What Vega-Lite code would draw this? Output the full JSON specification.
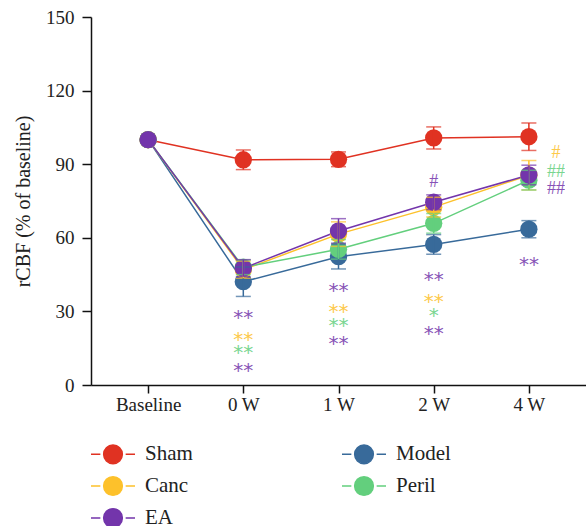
{
  "$schema": "https://vega.github.io/schema/vega-lite/v6.json",
  "width": 495,
  "height": 368,
  "autosize": {"type": "none"},
  "padding": {"left": 91, "top": 17, "right": 0, "bottom": 141},
  "config": {
    "view": {"stroke": null},
    "font": "Liberation Serif",
    "axis": {"grid": false, "domainColor": "#111", "tickColor": "#111", "domainWidth": 1.5, "tickWidth": 1.5, "labelColor": "#222", "titleColor": "#222", "labelFont": "Liberation Serif", "titleFont": "Liberation Serif", "labelFontSize": 19, "titleFontSize": 20, "titleFontWeight": "normal"}
  },
  "datasets": {
    "series": [
      {"group": "Sham", "time": "Baseline", "mean": 100, "err": 0},
      {"group": "Sham", "time": "0 W", "mean": 91.8, "err": 4},
      {"group": "Sham", "time": "1 W", "mean": 92, "err": 3},
      {"group": "Sham", "time": "2 W", "mean": 100.7, "err": 4.5},
      {"group": "Sham", "time": "4 W", "mean": 101.2, "err": 5.6},
      {"group": "Model", "time": "Baseline", "mean": 100, "err": 0},
      {"group": "Model", "time": "0 W", "mean": 42.1, "err": 6},
      {"group": "Model", "time": "1 W", "mean": 52.3, "err": 5},
      {"group": "Model", "time": "2 W", "mean": 57.3, "err": 4},
      {"group": "Model", "time": "4 W", "mean": 63.5, "err": 3.5},
      {"group": "Canc", "time": "Baseline", "mean": 100, "err": 0},
      {"group": "Canc", "time": "0 W", "mean": 47, "err": 3.5},
      {"group": "Canc", "time": "1 W", "mean": 61.5, "err": 5},
      {"group": "Canc", "time": "2 W", "mean": 72.5, "err": 4},
      {"group": "Canc", "time": "4 W", "mean": 85.5, "err": 6},
      {"group": "Peril", "time": "Baseline", "mean": 100, "err": 0},
      {"group": "Peril", "time": "0 W", "mean": 48, "err": 3},
      {"group": "Peril", "time": "1 W", "mean": 55.3, "err": 4},
      {"group": "Peril", "time": "2 W", "mean": 65.9, "err": 4},
      {"group": "Peril", "time": "4 W", "mean": 83.5, "err": 4},
      {"group": "EA", "time": "Baseline", "mean": 100, "err": 0},
      {"group": "EA", "time": "0 W", "mean": 47.6, "err": 3.5},
      {"group": "EA", "time": "1 W", "mean": 62.8, "err": 5},
      {"group": "EA", "time": "2 W", "mean": 74.5, "err": 3},
      {"group": "EA", "time": "4 W", "mean": 85.6, "err": 4}
    ],
    "stars": [
      {"group": "EA", "time": "0 W", "y": 28.5, "label": "**"},
      {"group": "Canc", "time": "0 W", "y": 19.4, "label": "**"},
      {"group": "Peril", "time": "0 W", "y": 14.3, "label": "**"},
      {"group": "EA", "time": "0 W", "y": 6.8, "label": "**"},
      {"group": "EA", "time": "1 W", "y": 39.4, "label": "**"},
      {"group": "Canc", "time": "1 W", "y": 30.9, "label": "**"},
      {"group": "Peril", "time": "1 W", "y": 25.1, "label": "**"},
      {"group": "EA", "time": "1 W", "y": 18.1, "label": "**"},
      {"group": "EA", "time": "2 W", "y": 43.9, "label": "**"},
      {"group": "Canc", "time": "2 W", "y": 34.9, "label": "**"},
      {"group": "Peril", "time": "2 W", "y": 29.5, "label": "*"},
      {"group": "EA", "time": "2 W", "y": 22.1, "label": "**"},
      {"group": "EA", "time": "4 W", "y": 50.3, "label": "**"}
    ],
    "hashes": [
      {"group": "EA", "time": "2 W", "y": 82.9, "label": "#"}
    ],
    "sidehashes": [
      {"group": "Canc", "time": "4 W", "y": 94.4, "label": "#"},
      {"group": "Peril", "time": "4 W", "y": 87, "label": "##"},
      {"group": "EA", "time": "4 W", "y": 79.8, "label": "##"}
    ]
  },
  "encoding": {
    "x": {"field": "time", "type": "ordinal", "scale": {"type": "point", "padding": 0.6, "domain": ["Baseline", "0 W", "1 W", "2 W", "4 W"]}, "axis": {"title": null, "labelAngle": 0, "tickSize": 8, "labelPadding": 2}}
  },
  "layer": [
    {
      "data": {"name": "series"},
      "mark": {"type": "line", "strokeWidth": 1.5},
      "encoding": {
        "y": {"field": "mean", "type": "quantitative", "scale": {"domain": [0, 150], "nice": false}, "axis": {"title": "rCBF (% of baseline)", "values": [0, 30, 60, 90, 120, 150], "tickSize": 9, "labelPadding": 8, "titlePadding": 12}},
        "color": {
          "field": "group", "type": "nominal",
          "scale": {"domain": ["Sham", "Model", "Canc", "Peril", "EA"], "range": ["#E03222", "#386A9A", "#FDC12B", "#63CF7D", "#7335AB"]},
          "legend": {
            "title": null, "orient": "none", "legendX": 10, "legendY": 425, "columns": 2, "columnPadding": 146, "rowPadding": 6, "padding": 0,
            "values": ["Sham", "Canc", "EA", "Model", "Peril"],
            "symbolType": "M-2,0H-1.15M1.15,0H2M-0.85,0A0.85,0.85 0 1,0 0.85,0A0.85,0.85 0 1,0 -0.85,0Z",
            "symbolSize": 484, "symbolStrokeWidth": 1.5, "symbolOpacity": 1,
            "labelOffset": 20, "labelFontSize": 21, "labelFont": "Liberation Serif", "labelColor": "#222",
            "encode": {"symbols": {"update": {"fill": {"scale": "color", "field": "value"}, "stroke": {"scale": "color", "field": "value"}}}}
          }
        }
      }
    },
    {
      "data": {"name": "series"},
      "mark": {"type": "point", "filled": true, "size": 300, "opacity": 1},
      "encoding": {
        "y": {"field": "mean", "type": "quantitative", "scale": {"domain": [0, 150], "nice": false}},
        "color": {"field": "group", "type": "nominal"}
      }
    },
    {
      "data": {"name": "series"},
      "transform": [{"filter": "datum.err > 0"}],
      "mark": {"type": "errorbar", "thickness": 1.5, "ticks": {"size": 15, "thickness": 1.5}},
      "encoding": {
        "y": {"field": "mean", "type": "quantitative", "title": "rCBF (% of baseline)", "scale": {"domain": [0, 150], "nice": false}},
        "yError": {"field": "err"},
        "color": {"field": "group", "type": "nominal", "legend": null}
      }
    },
    {
      "data": {"name": "stars"},
      "mark": {"type": "text", "font": "DejaVu Sans", "fontSize": 20, "baseline": "middle", "dy": 3, "opacity": 0.85},
      "encoding": {
        "y": {"field": "y", "type": "quantitative", "scale": {"domain": [0, 150], "nice": false}},
        "text": {"field": "label"},
        "color": {"field": "group", "type": "nominal", "legend": null}
      }
    },
    {
      "data": {"name": "hashes"},
      "mark": {"type": "text", "font": "Liberation Serif", "fontSize": 18, "baseline": "middle", "opacity": 0.85},
      "encoding": {
        "y": {"field": "y", "type": "quantitative", "scale": {"domain": [0, 150], "nice": false}},
        "text": {"field": "label"},
        "color": {"field": "group", "type": "nominal", "legend": null}
      }
    },
    {
      "data": {"name": "sidehashes"},
      "mark": {"type": "text", "font": "Liberation Serif", "fontSize": 18, "baseline": "middle", "dx": 27, "opacity": 0.85},
      "encoding": {
        "y": {"field": "y", "type": "quantitative", "scale": {"domain": [0, 150], "nice": false}},
        "text": {"field": "label"},
        "color": {"field": "group", "type": "nominal", "legend": null}
      }
    }
  ]
}
